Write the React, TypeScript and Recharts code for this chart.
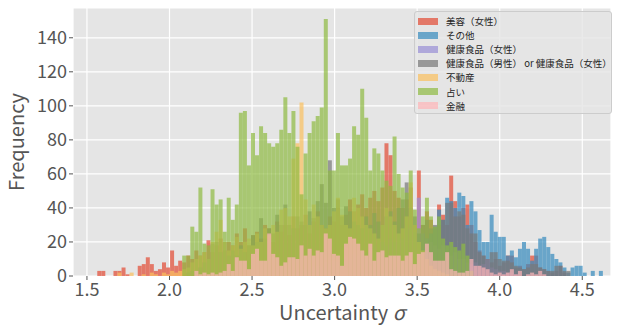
import React from 'react';
import { BarChart, Bar, XAxis, YAxis, CartesianGrid, Legend } from 'recharts';

const FONT = '"Noto Sans CJK JP", "Noto Sans", sans-serif';

// shared bin grid: left edge of bin 0 and width of one bin
const binStart = 1.4155;
const binWidth = 0.0245;
const binCount = 133;
const xTicks = [1.5, 2.0, 2.5, 3.0, 3.5, 4.0, 4.5];
const yTicks = [0, 20, 40, 60, 80, 100, 120, 140];

// counts per bin, each series starts at its own bin index
const biyouFrom = 6;
const biyouCounts = [
  3, 3, 0, 0, 3, 3, 5, 1, 0, 0,
  6, 7, 11, 7, 3, 4, 8, 5, 15, 6,
  9, 8, 12, 10, 15, 12, 14, 21, 14, 18,
  22, 15, 20, 18, 25, 20, 28, 18, 24, 26,
  22, 30, 28, 20, 32, 26, 30, 24, 35, 28,
  30, 36, 25, 32, 38, 30, 28, 35, 32, 40,
  30, 36, 45, 38, 42, 48, 40, 46, 50, 44,
  52, 78, 71, 50, 46, 40, 45, 52, 30, 62,
  30, 38, 33, 28, 42, 36, 30, 59, 44, 35,
  40, 42, 30, 20, 15, 12, 10, 8, 10, 6,
  8, 12, 12, 5, 6, 4, 7, 12, 12, 5,
  4, 3, 2, 3, 6, 2,
];

const sonotaFrom = 60;
const sonotaCounts = [
  1, 0, 1, 1, 0, 1, 2, 1, 1, 2,
  1, 2, 2, 1, 3, 2, 3, 2, 4, 3,
  5, 4, 6, 8, 10, 14, 16, 22, 25, 29,
  39, 33, 46, 44, 40, 49, 47, 30, 44, 38,
  27, 20, 20, 36, 26, 23, 23, 12, 15, 11,
  16, 20, 16, 9, 16, 22, 23, 17, 13, 10,
  8, 5, 2, 5, 6, 6, 2, 0, 3, 0, 3,
];

const kenkoJoseiFrom = 55;
const kenkoJoseiCounts = [
  2, 3, 4, 3, 5, 6, 5, 8, 7, 9,
  8, 10, 12, 10, 13, 12, 15, 14, 16, 18,
  15, 20, 18, 22, 20, 25, 22, 28, 30, 26,
  46, 25, 22, 20, 18, 16, 18, 14, 12, 14,
  10, 10, 8, 7, 8, 6, 7, 10, 5, 4,
  3, 3, 2, 2, 1,
];

const kenkoMixFrom = 28;
const kenkoMixCounts = [
  2, 3, 3, 5, 8, 10, 19, 20, 14, 20,
  12, 15, 12, 18, 14, 18, 24, 20, 34, 22,
  28, 25, 36, 30, 42, 30, 28, 35, 32, 30,
  38, 34, 44, 54, 43, 68, 40, 45, 35, 41,
  38, 32, 30, 28, 35, 30, 37, 32, 30, 35,
  38, 32, 40, 45, 55, 40, 35, 25, 30, 33,
  28, 30, 30, 33, 43, 43, 35, 38, 36, 28,
  25, 25, 14, 12, 10, 14, 14, 10, 9, 9,
  8, 6, 5, 4, 5, 7, 7, 5, 4, 3,
  3, 6, 6, 3, 3,
];

const fudosanFrom = 11;
const fudosanCounts = [
  2, 0, 0, 2, 0, 0, 1, 0, 2, 1,
  0, 2, 1, 3, 2, 3, 4, 5, 8, 10,
  12, 14, 10, 20, 26, 33, 20, 15, 18, 23,
  16, 20, 22, 18, 25, 20, 28, 24, 30, 26,
  39, 40, 35, 69, 78, 102, 45, 30, 42, 35,
  30, 28, 30, 38, 46, 36, 30, 28, 46, 40,
  35, 30, 28, 25, 22, 30, 40, 35, 30, 25,
  28, 35, 55, 30, 20, 15, 10, 6, 4, 3,
  2, 1,
];

const uranaiFrom = 27;
const uranaiCounts = [
  12, 12, 29, 26, 52, 19, 18, 51, 42, 45,
  26, 46, 33, 42, 96, 97, 65, 84, 71, 88,
  84, 78, 76, 78, 86, 105, 84, 97, 76, 48,
  72, 84, 91, 94, 99, 151, 62, 62, 84, 65,
  65, 69, 88, 83, 110, 93, 62, 75, 72, 62,
  56, 53, 82, 60, 52, 49, 62, 39, 28, 35,
  46, 35, 29, 35, 22, 18, 20, 17, 15, 19,
  12, 3,
];

const kinyuFrom = 30;
const kinyuCounts = [
  3, 1, 2, 1, 2, 1, 2, 3, 7, 3,
  11, 9, 9, 4, 13, 16, 9, 9, 25, 13,
  11, 6, 8, 11, 11, 10, 18, 12, 16, 12,
  15, 14, 25, 22, 13, 12, 6, 19, 23, 22,
  19, 15, 12, 19, 9, 14, 15, 11, 12, 12,
  12, 9, 12, 14, 7, 13, 14, 19, 14, 9,
  9, 9, 14, 4, 3, 2, 2, 3, 10, 6,
  6, 5, 4, 2, 1, 2, 1, 2, 4, 1,
  3, 0, 1, 2, 1, 3, 1,
];

const series = [
  { key: 'biyou', name: '美容（女性）', color: '#E24A33', from: biyouFrom, counts: biyouCounts },
  { key: 'sonota', name: 'その他', color: '#348ABD', from: sonotaFrom, counts: sonotaCounts },
  { key: 'kenkoJosei', name: '健康食品（女性）', color: '#988ED5', from: kenkoJoseiFrom, counts: kenkoJoseiCounts },
  { key: 'kenkoMix', name: '健康食品（男性） or 健康食品（女性）', color: '#777777', from: kenkoMixFrom, counts: kenkoMixCounts },
  { key: 'fudosan', name: '不動産', color: '#FBC15E', from: fudosanFrom, counts: fudosanCounts },
  { key: 'uranai', name: '占い', color: '#8EBA42', from: uranaiFrom, counts: uranaiCounts },
  { key: 'kinyu', name: '金融', color: '#FFB5B8', from: kinyuFrom, counts: kinyuCounts },
];

const rows = Array.from({ length: binCount }, (_, i) => {
  const row: Record<string, number | null> = { bin: i, x: binStart + binWidth * (i + 0.5) };
  series.forEach((s) => {
    const j = i - s.from;
    row[s.key] = j >= 0 && j < s.counts.length ? s.counts[j] : null;
  });
  return row;
});

function XTitle({ viewBox }: any) {
  return (
    <text
      x={viewBox.x + viewBox.width / 2}
      y={viewBox.y + 44}
      textAnchor="middle"
      fill="#555555"
      fontSize={20}
      fontFamily={FONT}
    >
      Uncertainty <tspan fontStyle="italic">σ</tspan>
    </text>
  );
}

function YTitle({ viewBox }: any) {
  const x = 24;
  const y = viewBox.y + viewBox.height / 2;
  return (
    <text x={x} y={y} transform={`rotate(-90 ${x} ${y})`} textAnchor="middle" fill="#555555" fontSize={20} fontFamily={FONT}>
      Frequency
    </text>
  );
}

function LegendBox() {
  return (
    <div
      style={{
        width: 198,
        height: 103,
        boxSizing: 'border-box',
        background: 'rgba(229,229,229,0.8)',
        border: '1px solid #cccccc',
        borderRadius: 3,
        padding: '2px 0 0 3px',
        fontFamily: FONT,
        fontSize: 9.5,
        color: '#262626',
        overflow: 'hidden',
      }}
    >
      {series.map((s) => (
        <div key={s.key} style={{ display: 'flex', alignItems: 'center', height: 14.1, whiteSpace: 'nowrap' }}>
          <span
            style={{ display: 'inline-block', flexShrink: 0, width: 20, height: 7, background: s.color, opacity: 0.7, marginRight: 8 }}
          />
          <span>{s.name}</span>
        </div>
      ))}
    </div>
  );
}

export default function App() {
  const tickStyle = { fill: '#555555', fontSize: 18, fontFamily: FONT };
  return (
    <div style={{ position: 'absolute', left: 0, top: 0 }}>
      <BarChart
        width={622}
        height={325}
        data={rows}
        margin={{ top: 8, right: 11, bottom: 0, left: 0 }}
        barCategoryGap={0}
        barGap={0}
      >
        <CartesianGrid xAxisId="num" fill="#E5E5E5" stroke="#ffffff" strokeWidth={1.2} />
        {series.map((s) => (
          <XAxis key={s.key} xAxisId={s.key} dataKey="bin" type="category" hide height={0} padding={{ left: 0, right: 0 }} />
        ))}
        <XAxis
          xAxisId="num"
          dataKey="x"
          type="number"
          domain={[binStart, binStart + binWidth * binCount]}
          allowDataOverflow
          ticks={xTicks}
          tickFormatter={(v: number) => v.toFixed(1)}
          tick={tickStyle}
          tickLine={{ stroke: '#555555' }}
          tickSize={4}
          tickMargin={3}
          axisLine={false}
          height={49}
          label={<XTitle />}
        />
        <YAxis
          domain={[0, 157.5]}
          ticks={yTicks}
          allowDataOverflow
          tick={tickStyle}
          tickLine={{ stroke: '#555555' }}
          tickSize={4}
          tickMargin={2}
          axisLine={false}
          width={73}
          label={<YTitle />}
        />
        {series.map((s) => (
          <Bar
            key={s.key}
            xAxisId={s.key}
            dataKey={s.key}
            name={s.name}
            fill={s.color}
            fillOpacity={0.7}
            isAnimationActive={false}
          />
        ))}
        <Legend
          layout="vertical"
          align="center"
          verticalAlign="middle"
          wrapperStyle={{ left: 414, top: 11, width: 198, height: 103 }}
          content={<LegendBox />}
        />
      </BarChart>
    </div>
  );
}
